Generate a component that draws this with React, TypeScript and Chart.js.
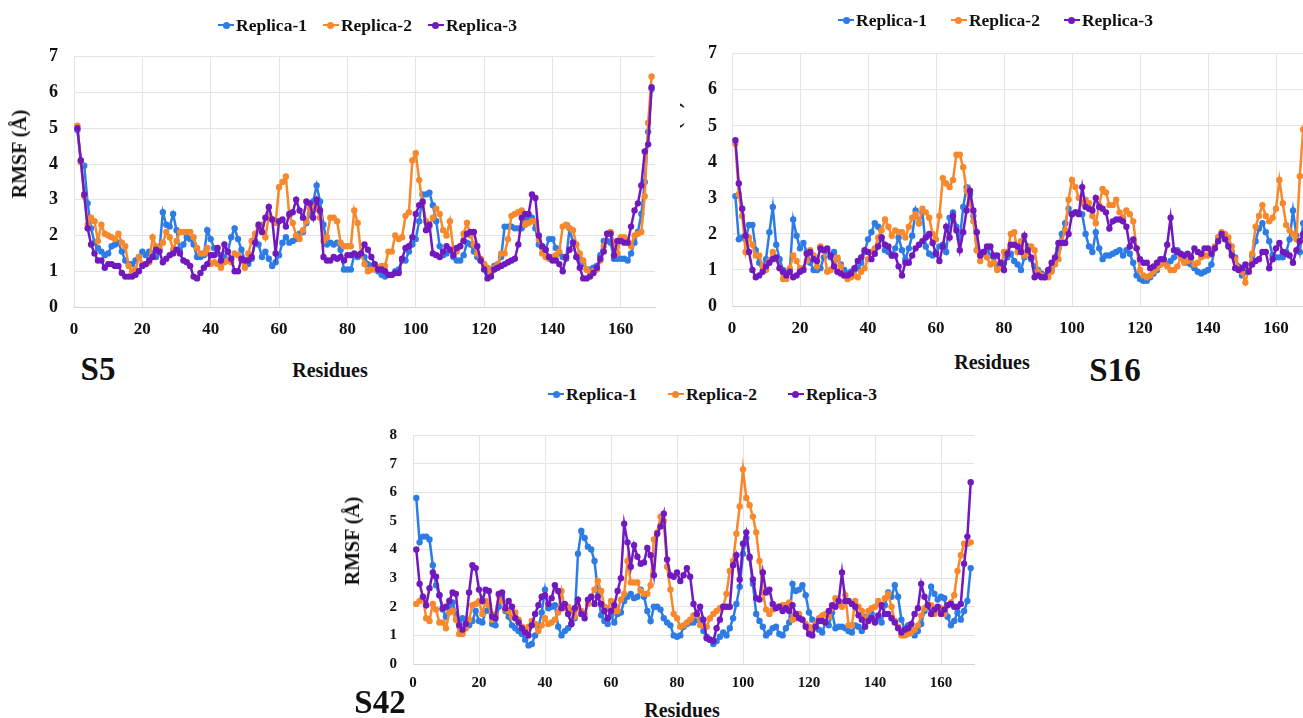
import React, { useEffect, useRef } from "react";
import { Chart, registerables } from "chart.js";

Chart.register(...registerables);

// ---------- DATA ----------
const residues: number[] = Array.from({ length: 169 }, (_, i) => i + 1);
const seriesLabels = ["Replica-1", "Replica-2", "Replica-3"];
const seriesColors = ["#2d7ce6", "#f7882b", "#7119bf"];

// S5
const s5Replica1 = [4.95,4.1,3.95,2.9,2.2,1.8,1.65,1.55,1.45,1.5,
 1.7,1.75,1.8,1.55,1.3,1.2,1.2,1.3,1.4,1.55,
 1.45,1.55,1.5,1.4,1.6,2.65,2.3,2.25,2.6,2.15,
 1.55,1.75,1.95,1.9,1.75,1.4,1.4,1.45,2.15,1.9,
 1.65,1.5,1.45,1.4,1.55,1.95,2.2,1.9,1.6,1.3,
 1.2,1.35,1.85,1.75,1.4,1.55,1.35,1.15,1.25,1.45,
 1.8,1.95,1.8,1.85,1.9,2.05,2.1,2.35,2.6,2.95,
 3.4,2.95,2.3,1.75,1.8,1.75,1.8,1.6,1.05,1.05,
 1.05,1.45,1.4,1.45,1.4,1.2,1.15,1.1,1.0,0.9,
 0.85,0.9,0.9,1.0,1.05,1.3,1.3,1.55,1.75,1.9,
 2.4,3.15,3.15,3.2,2.85,2.4,1.7,1.45,1.5,1.6,
 1.4,1.3,1.3,1.45,1.8,1.75,1.55,1.4,1.3,1.2,
 0.95,1.05,1.15,1.2,1.4,2.25,2.25,2.25,2.2,2.2,
 2.2,2.5,2.5,2.5,2.2,1.75,1.65,1.6,1.9,1.9,
 1.65,1.5,1.4,1.35,2.2,1.8,1.4,1.3,1.2,1.05,
 1.05,1.1,1.15,1.45,1.85,1.85,1.8,1.35,1.35,1.35,
 1.35,1.3,1.5,1.8,2.1,2.6,3.5,4.9,6.1];
const s5Replica2 = [5.07,4.05,3.1,2.3,2.5,2.4,1.85,2.3,2.05,2.0,
 1.95,1.9,2.05,1.8,1.7,1.15,1.0,1.05,1.4,1.2,
 1.2,1.25,1.95,1.7,1.65,1.8,2.1,1.95,1.6,1.85,
 2.1,2.1,2.1,2.1,1.95,1.65,1.5,1.5,1.65,1.2,
 1.25,1.2,1.1,1.25,1.3,1.25,1.5,1.45,1.3,1.1,
 1.5,1.85,2.05,2.25,2.3,1.95,2.55,2.45,2.35,3.35,
 3.5,3.65,2.55,2.35,2.0,1.9,2.15,2.4,2.75,2.8,
 2.75,2.5,1.85,1.95,2.5,2.5,2.4,1.8,1.7,1.7,
 1.7,2.7,2.35,1.5,1.2,1.0,1.05,1.05,1.1,1.15,
 1.15,1.55,1.55,2.0,1.9,1.95,2.55,2.65,4.1,4.3,
 3.55,2.9,2.4,2.25,2.5,2.75,2.6,2.15,2.0,2.4,
 1.6,1.55,1.7,2.05,2.35,2.0,1.75,1.5,1.35,1.2,
 1.1,0.95,1.1,1.2,1.5,1.5,1.9,2.55,2.6,2.65,
 2.7,2.3,2.35,2.4,2.4,1.9,1.5,1.4,1.35,1.4,
 1.45,1.55,2.25,2.3,2.2,2.15,1.75,1.5,1.3,1.05,
 0.95,1.0,1.05,1.3,1.7,2.05,2.1,1.8,1.5,1.95,
 1.95,1.85,1.7,2.0,2.05,2.1,3.1,5.15,6.45];
const s5Replica3 = [5.0,4.1,3.15,2.2,1.75,1.5,1.3,1.3,1.1,1.2,
 1.2,1.15,1.15,0.95,0.85,0.85,0.85,0.9,1.0,1.15,
 1.2,1.3,1.4,1.6,1.55,1.25,1.35,1.45,1.5,1.6,
 1.5,1.3,1.25,1.15,0.85,0.8,0.95,1.1,1.2,1.45,
 1.45,1.65,1.3,1.75,1.55,1.35,1.0,1.0,1.35,1.3,
 1.3,1.4,1.8,2.3,2.1,2.5,2.8,2.45,1.5,2.4,
 2.45,2.25,2.6,2.65,3.0,2.7,2.5,2.95,2.9,2.5,
 3.0,2.7,1.4,1.3,1.3,1.4,1.35,1.4,1.3,1.45,
 1.45,1.5,1.45,1.5,1.75,1.6,1.4,1.2,1.05,1.05,
 1.0,0.9,0.9,0.95,0.95,1.35,1.65,1.7,1.95,2.6,
 2.85,2.95,2.15,2.3,1.5,1.45,1.4,1.55,1.7,1.6,
 1.45,1.65,1.7,1.85,2.05,2.1,2.1,1.7,1.3,1.05,
 0.8,0.85,1.05,1.1,1.15,1.2,1.25,1.3,1.35,1.75,
 2.5,2.6,2.6,3.15,3.05,2.0,1.7,1.6,1.4,1.3,
 1.3,1.2,1.0,1.4,1.6,1.8,1.4,1.1,0.8,0.8,
 0.85,0.95,1.1,1.35,1.55,2.05,2.05,1.45,1.85,1.85,
 1.8,1.8,2.25,2.7,2.9,3.4,4.35,4.55,6.15];

// S16
const s16Replica1 = [3.05,1.85,1.9,1.85,2.25,2.25,1.55,1.2,1.1,1.3,
 2.05,2.75,1.7,1.3,1.0,0.9,1.0,2.4,1.95,1.6,
 1.75,1.5,1.2,1.0,1.0,1.05,1.35,1.55,1.35,1.5,
 1.3,1.15,1.0,0.9,0.95,1.0,1.05,1.2,1.5,1.85,
 2.05,2.3,2.2,1.9,1.55,1.5,1.4,1.6,1.9,1.55,
 1.3,1.6,1.95,2.65,2.3,2.6,1.65,1.45,1.4,1.5,
 1.65,1.7,1.5,2.45,2.6,2.2,1.85,2.75,3.3,3.1,
 2.5,1.55,1.45,1.5,1.55,1.4,1.35,1.1,1.15,1.2,
 1.35,1.45,1.25,1.15,1.0,1.35,1.65,1.3,1.1,1.0,
 0.9,0.85,0.95,1.0,1.25,1.6,2.0,2.3,2.7,2.55,
 2.6,2.6,2.55,2.0,1.65,1.5,2.05,1.6,1.3,1.4,
 1.4,1.45,1.5,1.55,1.4,1.55,1.45,1.2,0.85,0.75,
 0.7,0.7,0.8,0.9,1.0,1.15,1.2,1.15,1.25,1.35,
 1.55,1.4,1.25,1.2,1.15,1.05,0.95,0.9,0.95,1.0,
 1.15,1.6,1.9,1.95,1.95,1.7,1.5,1.35,1.1,0.85,
 0.95,1.1,1.4,1.8,2.15,2.3,2.05,1.8,1.4,1.35,
 1.35,1.35,1.5,1.85,2.65,1.95,1.5,2.3,2.4];
const s16Replica2 = [4.5,3.1,2.5,1.5,1.9,1.7,1.4,1.4,1.1,1.0,
 1.25,1.5,1.3,1.05,0.75,0.75,1.05,1.4,1.25,1.05,
 1.05,1.25,1.55,1.4,1.1,1.65,1.55,0.95,1.0,1.2,
 1.35,1.1,0.85,0.75,0.8,0.85,0.8,0.95,1.05,1.3,
 1.5,1.6,1.9,2.1,2.4,2.2,1.95,2.1,2.05,2.05,
 1.9,2.2,2.45,2.55,2.3,2.7,2.6,2.45,2.0,1.85,
 2.5,3.55,3.4,3.3,3.5,4.2,4.2,3.85,3.2,2.85,
 2.35,1.55,1.25,1.45,1.35,1.15,1.2,1.0,1.05,1.5,
 1.5,2.0,2.05,1.5,1.8,1.4,1.5,1.65,1.55,0.95,
 0.85,0.8,0.8,0.95,1.15,1.3,1.8,2.1,2.95,3.5,
 3.3,3.0,2.85,2.95,2.85,2.5,2.3,2.8,3.25,3.15,
 2.8,2.8,2.95,2.6,2.45,2.65,2.55,2.35,1.6,1.0,
 0.85,0.8,0.85,0.95,1.05,1.15,1.2,1.1,1.0,1.0,
 1.1,1.35,1.2,1.25,1.35,1.15,1.2,1.35,1.4,1.4,
 1.5,1.65,1.9,2.05,2.0,1.9,1.65,1.3,1.05,0.95,
 0.65,1.05,1.45,2.2,2.5,2.8,2.5,2.35,2.45,2.7,
 3.5,2.85,2.25,2.1,2.0,1.85,3.6,4.9,5.5];
const s16Replica3 = [4.6,3.4,2.7,1.95,1.5,1.0,0.8,0.85,0.95,1.1,
 1.2,1.3,1.35,1.05,0.95,0.85,0.95,0.8,0.85,0.95,
 1.0,1.45,1.5,1.3,1.25,1.6,1.55,1.6,1.4,1.1,
 0.95,0.9,0.85,0.85,0.9,1.05,1.25,1.35,1.55,1.5,
 1.3,1.45,1.65,1.9,1.7,1.65,1.4,1.4,1.1,0.85,
 1.2,1.2,1.4,1.6,1.7,1.8,1.9,2.0,1.75,1.45,
 1.25,1.65,2.2,1.9,2.5,2.1,1.55,2.05,2.65,3.2,
 2.65,2.05,1.4,1.5,1.65,1.65,1.4,1.4,1.2,1.0,
 1.45,1.7,1.7,1.65,1.5,1.95,1.55,1.35,0.8,0.85,
 0.8,0.8,1.0,1.2,1.35,1.75,1.75,1.75,2.0,2.55,
 2.6,2.55,3.3,2.75,2.7,2.65,3.0,2.75,2.7,2.6,
 2.15,2.35,2.4,2.4,2.35,2.2,1.65,1.85,1.6,1.3,
 1.2,1.2,1.05,1.1,1.2,1.3,1.3,1.7,2.45,1.55,
 1.5,1.45,1.4,1.45,1.35,1.6,1.5,1.45,1.6,1.6,
 1.45,1.6,1.8,2.0,1.85,1.65,1.4,1.05,1.0,1.05,
 1.15,0.95,1.15,1.25,1.3,1.5,1.5,1.05,1.3,1.6,
 1.75,1.5,1.45,1.4,1.2,1.55,1.8,2.0,2.2];

// S42
const s42Replica1 = [5.8,4.25,4.45,4.45,4.35,3.45,2.75,2.4,1.9,1.65,
 2.0,2.15,1.75,1.5,1.6,1.4,1.35,1.5,1.85,1.5,
 1.45,1.85,1.9,1.4,1.35,2.0,2.35,1.85,1.65,1.35,
 1.25,1.15,1.05,0.85,0.65,0.7,1.0,1.25,1.8,2.6,
 1.95,2.0,2.05,1.3,1.0,1.15,1.25,1.4,1.6,3.85,
 4.65,4.4,4.1,4.0,3.6,2.55,1.7,1.5,1.4,1.7,
 1.45,1.75,1.8,2.2,2.35,2.45,2.3,2.35,2.6,2.35,
 1.85,1.5,2.0,2.0,1.9,1.6,1.45,1.35,1.0,0.95,
 1.0,1.3,1.4,1.45,1.45,1.55,1.55,1.15,0.95,0.85,
 0.7,0.8,0.95,1.1,1.0,1.25,1.6,2.1,2.7,3.85,
 4.4,3.7,2.8,1.75,1.5,1.3,1.0,1.1,1.25,1.3,
 1.05,1.0,1.25,1.45,2.8,2.55,2.6,2.75,2.4,1.8,
 1.55,1.35,1.2,1.1,1.45,1.35,1.8,1.25,1.3,1.3,
 1.25,1.15,1.1,1.35,1.3,1.15,1.65,1.6,1.75,1.5,
 1.6,1.45,2.05,2.5,2.35,2.75,2.35,1.55,1.2,1.35,
 1.2,1.0,1.15,1.4,1.85,2.0,2.7,2.45,2.25,2.35,
 2.3,1.65,1.35,1.5,1.8,1.55,1.85,2.2,3.35];
const s42Replica2 = [2.1,2.2,2.3,1.6,1.5,2.1,1.9,1.45,1.45,1.25,
 1.8,1.85,1.55,1.05,1.05,1.25,1.55,2.05,2.1,2.2,
 1.75,2.2,2.05,1.55,1.75,2.4,2.2,1.9,1.85,1.65,
 1.8,1.55,1.3,1.2,1.3,1.5,1.4,1.15,1.35,1.6,
 1.4,1.45,1.55,1.8,2.55,1.95,2.0,1.85,1.65,2.0,
 1.85,1.75,2.1,2.35,2.6,2.9,2.55,2.0,1.95,2.2,
 1.85,1.85,2.25,2.45,3.6,2.85,2.85,2.85,2.55,2.45,
 2.45,2.75,4.35,4.6,5.15,5.0,3.4,2.6,1.75,1.6,
 1.3,1.35,1.45,1.55,1.7,1.7,1.35,1.35,1.3,1.6,
 1.75,1.85,1.95,2.0,2.45,3.25,3.6,4.55,5.5,6.8,
 5.8,5.55,5.15,4.6,3.6,2.5,1.9,1.75,1.9,2.0,
 2.0,2.05,2.05,2.15,1.55,1.6,1.75,1.55,1.4,1.3,
 1.2,1.4,1.6,1.7,1.75,1.65,1.95,2.3,2.1,2.0,
 2.4,1.35,1.35,2.2,2.0,1.85,1.55,1.85,1.95,2.0,
 2.2,2.0,2.3,2.45,2.0,1.5,1.3,1.0,1.0,1.05,
 1.1,1.2,1.35,1.7,1.95,2.1,2.05,1.75,1.9,1.95,
 1.75,2.05,2.15,2.4,3.25,3.8,4.2,4.2,4.25];
const s42Replica3 = [4.0,2.8,2.35,2.05,2.65,3.2,3.05,2.4,1.95,2.0,
 2.2,2.5,2.45,1.35,1.2,1.4,2.5,3.45,3.35,2.6,
 2.2,2.6,2.55,1.65,1.6,2.45,2.5,1.95,2.2,2.0,
 1.6,1.45,1.25,1.1,1.0,1.35,1.75,2.05,2.35,2.4,
 2.1,2.3,2.75,2.55,1.95,2.1,1.75,1.4,1.95,2.25,
 1.75,1.6,2.25,2.35,2.1,2.35,2.1,1.85,1.6,1.85,
 2.05,2.55,3.0,4.9,4.25,3.4,4.15,3.75,3.5,3.55,
 4.05,3.8,3.1,4.55,4.8,5.25,3.65,3.1,3.05,3.2,
 2.9,3.1,3.35,3.05,2.1,1.75,2.0,1.55,0.9,0.85,
 0.8,1.25,1.55,2.0,2.0,2.0,3.45,3.8,2.95,4.2,
 4.6,3.75,2.95,2.3,2.25,3.2,2.5,2.6,2.1,1.95,
 2.0,1.85,1.95,1.85,2.05,1.75,1.6,1.55,1.3,1.05,
 1.0,1.3,1.5,1.5,1.45,1.85,2.05,2.0,2.2,3.2,
 2.2,2.2,2.1,2.0,1.7,1.55,1.3,1.5,1.6,1.45,
 1.7,2.05,1.75,1.75,1.6,1.45,1.25,1.1,1.2,1.25,
 1.4,1.75,1.95,2.8,2.35,2.05,1.75,1.9,2.0,1.75,
 1.9,2.05,2.1,2.0,2.0,2.1,3.5,4.45,6.35];

const xTickStep = 20;
const xMax = 170;

// ---------- STYLE ----------
const FONT = "Liberation Serif";
const CSS_FONT = "'Liberation Serif', 'Times New Roman', Times, serif";
const TEXT = "#111111";

Chart.defaults.font.family = FONT;
Chart.defaults.font.weight = "bold" as any;
Chart.defaults.color = TEXT;

type PanelSpec = {
  series: number[][];
  yMax: number;
  canvas: { left: number; top: number; width: number; height: number };
  padTop: number;
  padRight: number;
  yAxisWidth: number;
  xAxisHeight: number;
  xFont: number;
  yFont: number;
  xPad: number;
  yPad: number;
};

function LineChart({ spec }: { spec: PanelSpec }) {
  const ref = useRef<HTMLCanvasElement | null>(null);
  useEffect(() => {
    if (!ref.current) return;
    const datasets = spec.series.map((vals, si) => ({
      label: seriesLabels[si],
      data: residues.map((r, i) => ({ x: r, y: vals[i] })),
      borderColor: seriesColors[si],
      backgroundColor: seriesColors[si],
      borderWidth: 2.5,
      pointRadius: 3.2,
      pointBorderWidth: 0,
      pointHoverRadius: 3.2,
      tension: 0,
      order: 3 - si,
    }));
    const chart = new Chart(ref.current, {
      type: "line",
      data: { datasets },
      options: {
        responsive: false,
        maintainAspectRatio: false,
        animation: false,
        events: [],
        layout: { padding: { top: spec.padTop, right: spec.padRight, left: 0, bottom: 0 } },
        plugins: { legend: { display: false }, tooltip: { enabled: false } },
        scales: {
          x: {
            type: "linear",
            min: 0,
            max: xMax,
            ticks: {
              stepSize: xTickStep,
              includeBounds: false,
              maxRotation: 0,
              padding: spec.xPad,
              color: TEXT,
              font: { family: FONT, size: spec.xFont, weight: "bold" },
            },
            grid: { color: "#e4e4e4", lineWidth: 1, drawTicks: false },
            border: { display: true, color: "#d4d4d4", width: 1 },
            afterFit: (s: any) => {
              s.height = spec.xAxisHeight;
            },
          },
          y: {
            type: "linear",
            min: 0,
            max: spec.yMax,
            ticks: {
              stepSize: 1,
              padding: spec.yPad,
              color: TEXT,
              font: { family: FONT, size: spec.yFont, weight: "bold" },
            },
            grid: { color: "#e4e4e4", lineWidth: 1, drawTicks: false },
            border: { display: false },
            afterFit: (s: any) => {
              s.width = spec.yAxisWidth;
            },
          },
        },
      } as any,
    });
    return () => chart.destroy();
  }, [spec]);
  const c = spec.canvas;
  return (
    <canvas
      ref={ref}
      width={c.width}
      height={c.height}
      style={{ position: "absolute", left: c.left, top: c.top, width: c.width, height: c.height }}
    />
  );
}

function Legend({ left, top, gap }: { left: number; top: number; gap: number }) {
  return (
    <div
      style={{
        position: "absolute",
        left,
        top,
        transform: "translateY(-50%)",
        display: "flex",
        alignItems: "center",
        gap,
        whiteSpace: "nowrap",
        fontSize: 17.5,
        lineHeight: "20px",
      }}
    >
      {seriesLabels.map((lab, i) => (
        <div key={lab} style={{ display: "flex", alignItems: "center" }}>
          <span style={{ position: "relative", display: "inline-block", width: 16, height: 10 }}>
            <span
              style={{
                position: "absolute",
                left: 0,
                right: 0,
                top: 4,
                height: 2.4,
                background: seriesColors[i],
              }}
            />
            <span
              style={{
                position: "absolute",
                left: 4.5,
                top: 1.7,
                width: 7,
                height: 7,
                borderRadius: "50%",
                background: seriesColors[i],
              }}
            />
          </span>
          <span style={{ marginLeft: 2 }}>{lab}</span>
        </div>
      ))}
    </div>
  );
}

function Label({ x, y, size, text, rotate }: { x: number; y: number; size: number; text: string; rotate?: boolean }) {
  return (
    <div
      style={{
        position: "absolute",
        left: x,
        top: y,
        transform: `translate(-50%, -50%)${rotate ? " rotate(-90deg)" : ""}`,
        fontSize: size,
        lineHeight: `${size}px`,
        whiteSpace: "nowrap",
      }}
    >
      {text}
    </div>
  );
}

const panelS5: PanelSpec = {
  series: [s5Replica1, s5Replica2, s5Replica3],
  yMax: 7,
  canvas: { left: 20, top: 30, width: 645, height: 310 },
  padTop: 13,
  padRight: 10,
  yAxisWidth: 54,
  xAxisHeight: 33,
  xFont: 17,
  yFont: 18,
  xPad: 12,
  yPad: 16,
};

const panelS16: PanelSpec = {
  series: [s16Replica1, s16Replica2, s16Replica3],
  yMax: 7,
  canvas: { left: 0, top: 28, width: 640, height: 311 },
  padTop: 11,
  padRight: 10,
  yAxisWidth: 52,
  xAxisHeight: 33,
  xFont: 17,
  yFont: 18,
  xPad: 12,
  yPad: 15,
};

const panelS42: PanelSpec = {
  series: [s42Replica1, s42Replica2, s42Replica3],
  yMax: 8,
  canvas: { left: 360, top: 410, width: 624, height: 284 },
  padTop: 12,
  padRight: 10,
  yAxisWidth: 53,
  xAxisHeight: 30,
  xFont: 15,
  yFont: 15,
  xPad: 10,
  yPad: 16,
};

export default function App() {
  return (
    <div
      style={{
        position: "absolute",
        left: 0,
        top: 0,
        width: 1303,
        height: 718,
        overflow: "hidden",
        background: "#ffffff",
        fontFamily: CSS_FONT,
        fontWeight: "bold",
        color: TEXT,
      }}
    >
      {/* S5 panel */}
      <LineChart spec={panelS5} />
      <Legend left={218} top={25} gap={16} />
      <Label x={19} y={154} size={20} text="RMSF (Å)" rotate />
      <Label x={330} y={370} size={20} text="Residues" />
      <Label x={98} y={369} size={33} text="S5" />

      {/* S16 panel (cropped on its left and right edges) */}
      <div style={{ position: "absolute", left: 680, top: 0, width: 623, height: 345, overflow: "hidden" }}>
        <LineChart spec={panelS16} />
        <Label x={-7} y={146} size={20} text="RMSF (Å)" rotate />
        <Legend left={158} top={20} gap={24} />
      </div>
      <Label x={992} y={362} size={20} text="Residues" />
      <Label x={1115} y={370} size={33} text="S16" />

      {/* S42 panel */}
      <LineChart spec={panelS42} />
      <Legend left={548} top={394} gap={31} />
      <Label x={352} y={541} size={20} text="RMSF (Å)" rotate />
      <Label x={682} y={710} size={20} text="Residues" />
      <Label x={380} y={702} size={33} text="S42" />
    </div>
  );
}
